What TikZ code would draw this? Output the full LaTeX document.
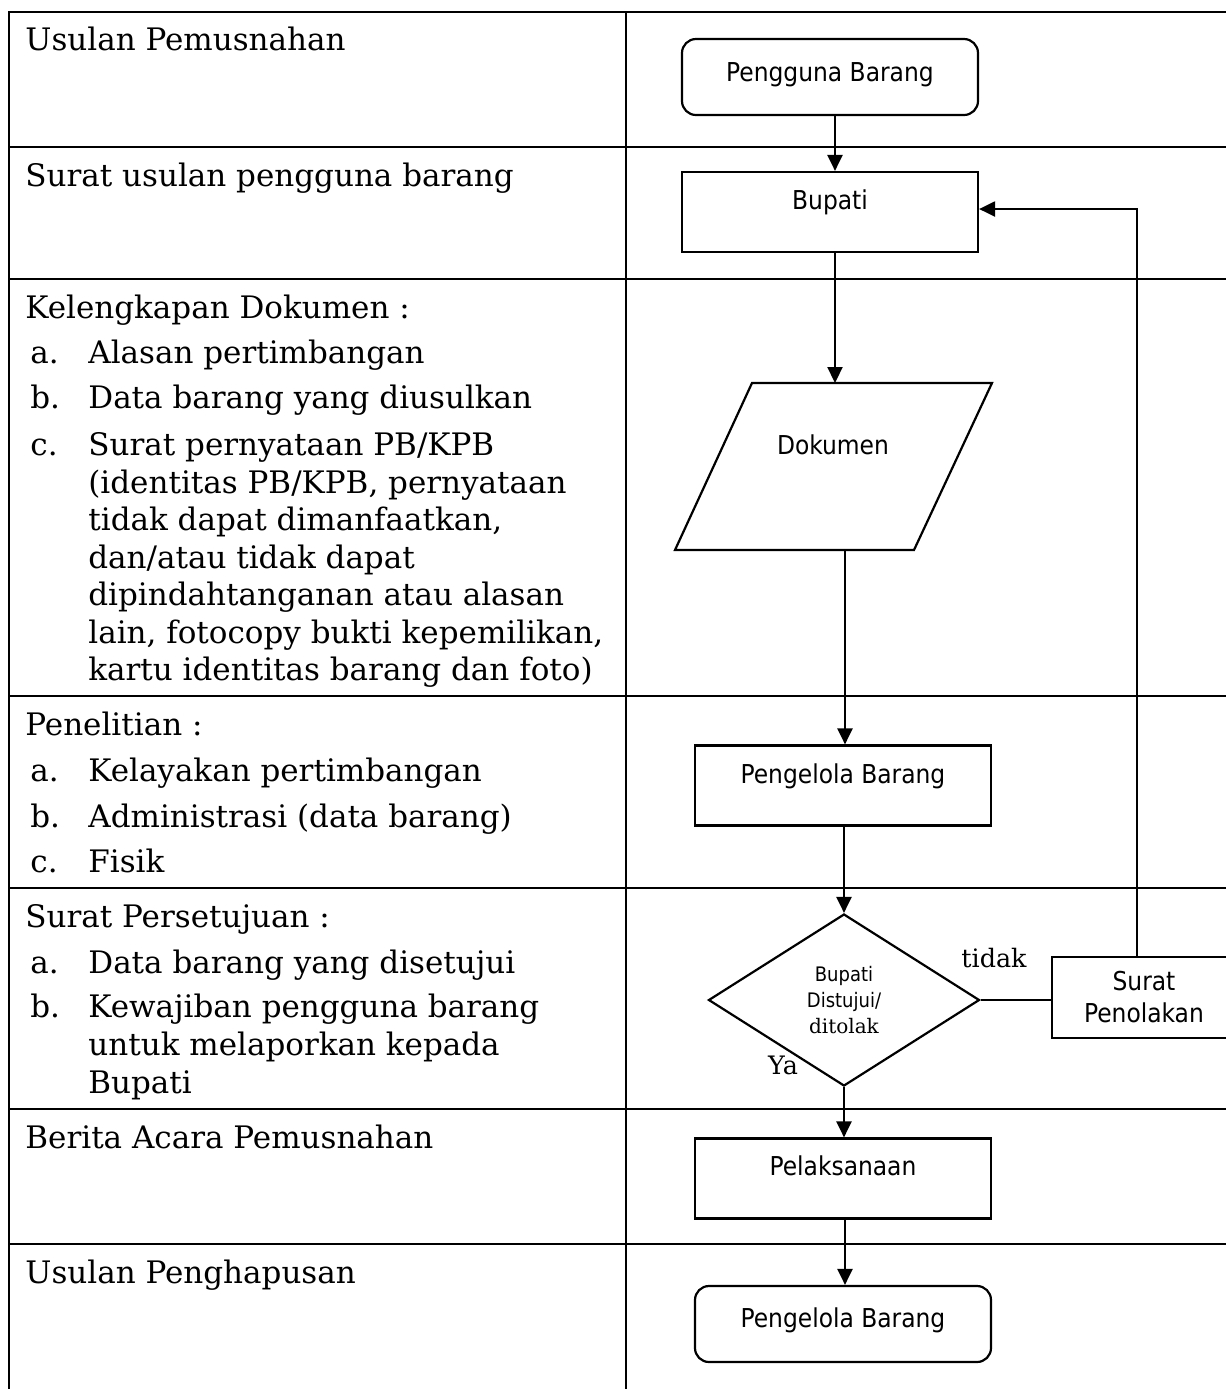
\documentclass[tikz,border=0pt]{standalone}
\usepackage{fontspec}
\setmainfont{DejaVu Serif}
\newfontfamily\sansf{DejaVu Sans Condensed}
\usetikzlibrary{arrows.meta,shapes.geometric}
\begin{document}
\begin{tikzpicture}[x=0.5pt,y=-0.5pt,
  tline/.style={line width=1.2pt},
  ltxt/.style={anchor=base west,inner sep=0pt,font=\fontsize{15.5}{18.75}\selectfont},
  fbox/.style={draw,line width=1.1pt,minimum width=148pt,minimum height=40pt,inner sep=0pt,font=\sansf\fontsize{13}{15}\selectfont,text height=10pt},
  rbox/.style={fbox,rounded corners=7pt},
  arr/.style={line width=1.1pt,-{Triangle[length=8pt,width=7.5pt]}},
  conn/.style={line width=1.1pt},
  lbl/.style={inner sep=0pt,font=\fontsize{12.7}{15}\selectfont},
]
\useasboundingbox (0,0) rectangle (1226,1389);
% table
\draw[tline] (1226,12) -- (9,12) -- (9,1389);
\draw[tline] (626,12) -- (626,1389);
\foreach \yy in {147,279,696,888,1109,1244} \draw[tline] (9,\yy) -- (1226,\yy);
% left column texts
\node[ltxt] (h1) at (25,50) {Usulan Pemusnahan};
\node[ltxt] (h2) at (25,186) {Surat usulan pengguna barang};
\node[ltxt] (h3) at (25,318) {Kelengkapan Dokumen :};
\node[ltxt] (h3a) at (30,363) {a.};
\node[ltxt] (h3at) at (88,363) {Alasan pertimbangan};
\node[ltxt] (h3b) at (30,408) {b.};
\node[ltxt] (h3bt) at (88,408) {Data barang yang diusulkan};
\node[ltxt] (h3c) at (30,455) {c.};
\node[ltxt] (h3c1) at (88,455) {Surat pernyataan PB/KPB};
\node[ltxt] (h3c2) at (88,493) {(identitas PB/KPB, pernyataan};
\node[ltxt] (h3c3) at (88,530.5) {tidak dapat dimanfaatkan,};
\node[ltxt] (h3c4) at (88,568) {dan/atau tidak dapat};
\node[ltxt] (h3c5) at (88,605.5) {dipindahtanganan atau alasan};
\node[ltxt] (h3c6) at (88,643) {lain, fotocopy bukti kepemilikan,};
\node[ltxt] (h3c7) at (88,680.5) {kartu identitas barang dan foto)};
\node[ltxt] (h4) at (25,735) {Penelitian :};
\node[ltxt] (h4a) at (30,781) {a.};
\node[ltxt] (h4at) at (88,781) {Kelayakan pertimbangan};
\node[ltxt] (h4b) at (30,827) {b.};
\node[ltxt] (h4bt) at (88,827) {Administrasi (data barang)};
\node[ltxt] (h4c) at (30,872) {c.};
\node[ltxt] (h4ct) at (88,872) {Fisik};
\node[ltxt] (h5) at (25,927) {Surat Persetujuan :};
\node[ltxt] (h5a) at (30,973) {a.};
\node[ltxt] (h5at) at (88,973) {Data barang yang disetujui};
\node[ltxt] (h5b) at (30,1017) {b.};
\node[ltxt] (h5b1) at (88,1017) {Kewajiban pengguna barang};
\node[ltxt] (h5b2) at (88,1055) {untuk melaporkan kepada};
\node[ltxt] (h5b3) at (88,1093) {Bupati};
\node[ltxt] (h6) at (25,1148) {Berita Acara Pemusnahan};
\node[ltxt] (h7) at (25,1283) {Usulan Penghapusan};
% flowchart
\node[rbox,minimum height=38pt,text depth=6pt] (pg) at (830,77) {Pengguna Barang};
\node[fbox,text depth=13pt] (bup) at (830,212) {Bupati};
\coordinate (p1) at (752,383);
\coordinate (p2) at (992,383);
\coordinate (p3) at (914,550);
\coordinate (p4) at (675,550);
\draw[conn] (p1) -- (p2) -- (p3) -- (p4) -- cycle;
\node[inner sep=0pt,font=\sansf\fontsize{13}{15}\selectfont] (dok) at (833,445) {Dokumen};
\coordinate (dokT) at (835,383);
\coordinate (dokB) at (845,550);
\node[fbox,text depth=12.5pt] (pl1) at (843,785.5) {Pengelola Barang};
\node[draw,diamond,line width=1.1pt,minimum width=135.5pt,minimum height=86pt,inner sep=0pt,align=center,font=\fontsize{10}{13}\selectfont] (dm) at (844,1000) {{\sansf Bupati}\\{\sansf Distujui/}\\ditolak};
\node[draw,line width=1.1pt,minimum width=92pt,minimum height=40.5pt,inner sep=0pt,align=center,font=\sansf\fontsize{13}{16}\selectfont] (sp) at (1144,997.5) {Surat\\Penolakan};
\node[fbox,text depth=13.5pt] (pel) at (843,1178.5) {Pelaksanaan};
\node[rbox,minimum height=38pt,text depth=7pt] (pl2) at (843,1324) {Pengelola Barang};
\node[lbl] (ltidak) at (994,958) {tidak};
\node[lbl] (lya) at (783,1065) {Ya};
% connectors
\coordinate (xa) at (835,0);
\coordinate (xb) at (845,0);
\coordinate (xc) at (1137,209);
\draw[arr] (pg.south -| xa) -- (bup.north -| xa);
\draw[arr] (bup.south -| xa) -- (dokT);
\draw[arr] (dokB) -- (pl1.north -| xb);
\draw[arr] (pl1.south -| dm.north) -- (dm.north);
\draw[arr] (dm.south) -- (pel.north -| dm.south);
\draw[arr] (pel.south -| xb) -- (pl2.north -| xb);
\draw[conn] (dm.east) -- (sp.west |- dm.east);
\draw[arr] (sp.north -| xc) -- (xc) -- (bup.east |- xc);
\end{tikzpicture}
\end{document}
